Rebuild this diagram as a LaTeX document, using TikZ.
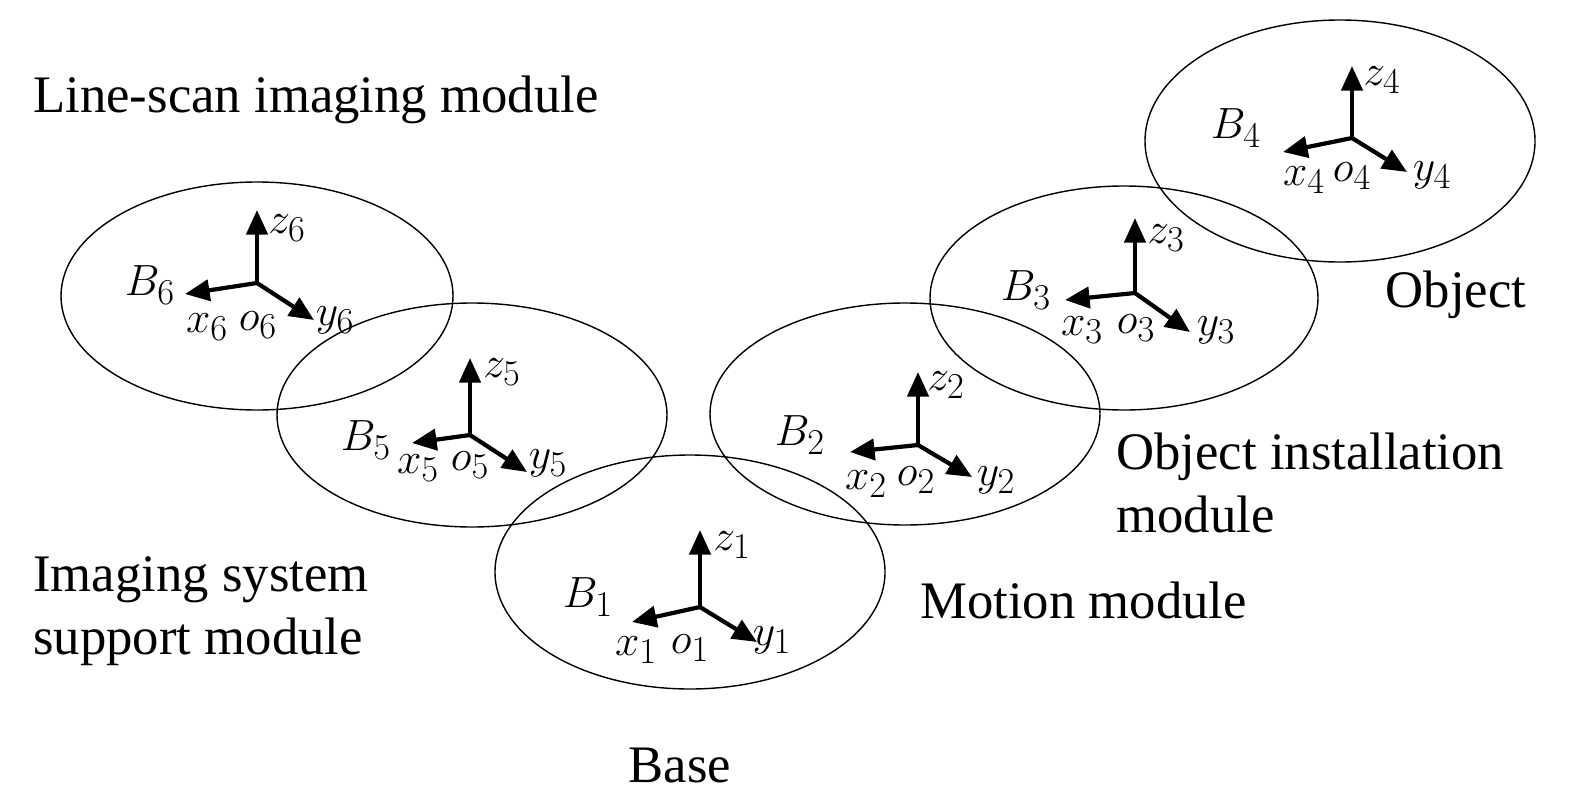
\documentclass[tikz,border=0pt]{standalone}
\usepackage{fontspec}
\setmainfont{Liberation Serif}
\usetikzlibrary{arrows.meta}
\begin{document}
\begin{tikzpicture}[x=0.02cm,y=-0.02cm,
  ell/.style={draw,line width=0.8pt},
  ax/.style={line width=2.4pt,-{Triangle[length=14pt,width=12pt]}},
  lab/.style={font=\fontsize{30}{34}\selectfont,inner sep=0pt},
  txt/.style={font=\fontsize{30}{36}\selectfont,inner sep=0pt,align=left}]
\useasboundingbox (0,0) rectangle (1575,801);
\draw[ell] (257,296) ellipse [x radius=196,y radius=114];
\draw[ell] (472,415) ellipse [x radius=195,y radius=112];
\draw[ell] (690,572) ellipse [x radius=195,y radius=117];
\draw[ell] (905,414) ellipse [x radius=195,y radius=111];
\draw[ell] (1124,298) ellipse [x radius=194,y radius=112];
\draw[ell] (1340,141) ellipse [x radius=195,y radius=121];
% frames: id, ox, oy, zx,zy, xx,xy, yx,yy, B, z, x, o, y label positions
\foreach \i/\ox/\oy/\zy/\xx/\xy/\yx/\yy/\bx/\by/\zlx/\zly/\xlx/\xly/\olx/\oly/\ylx/\yly in {
  6/257/283/210/185/294/314/320/150/285/287/228/207/327/258/325/335/320,
  5/470/435/358/412/443/527/472/366/440/502/372/418/468/470/465/548/463,
  1/700/607/530/632/622/757/642/588/597/732/545/636/650/690/648/772/640,
  2/918/445/372/850/452/972/477/800/435/946/385/866/484/916/480/996/480,
  3/1135/293/218/1065/300/1190/332/1026/290/1166/238/1082/330/1136/328/1216/330,
  4/1352/138/66/1283/152/1407/172/1236/128/1382/80/1304/180/1352/176/1432/175}{
  \coordinate (o\i) at (\ox,\oy);
  \coordinate (z\i) at (\ox,\zy);
  \coordinate (x\i) at (\xx,\xy);
  \coordinate (y\i) at (\yx,\yy);
  \draw[ax] (o\i) -- (z\i);
  \draw[ax] (o\i) -- (x\i);
  \draw[ax] (o\i) -- (y\i);
  \node[lab] (B\i l) at (\bx,\by) {$B_{\i}$};
  \node[lab] (z\i l) at (\zlx,\zly) {$z_{\i}$};
  \node[lab] (x\i l) at (\xlx,\xly) {$x_{\i}$};
  \node[lab] (o\i l) at (\olx,\oly) {$o_{\i}$};
  \node[lab] (y\i l) at (\ylx,\yly) {$y_{\i}$};
}
\node[txt,anchor=west] (t6) at (33,100) {Line-scan imaging module};
\node[txt,anchor=west] (t5) at (33,611) {Imaging system\\support module};
\node[txt] (t1) at (680,765) {Base};
\node[txt,anchor=west] (t2) at (920,600) {Motion module};
\node[txt,anchor=west] (t3) at (1116,483) {Object installation\\\hspace*{0pt}module};
\node[txt] (t4) at (1456,295) {Object};
\end{tikzpicture}
\end{document}
